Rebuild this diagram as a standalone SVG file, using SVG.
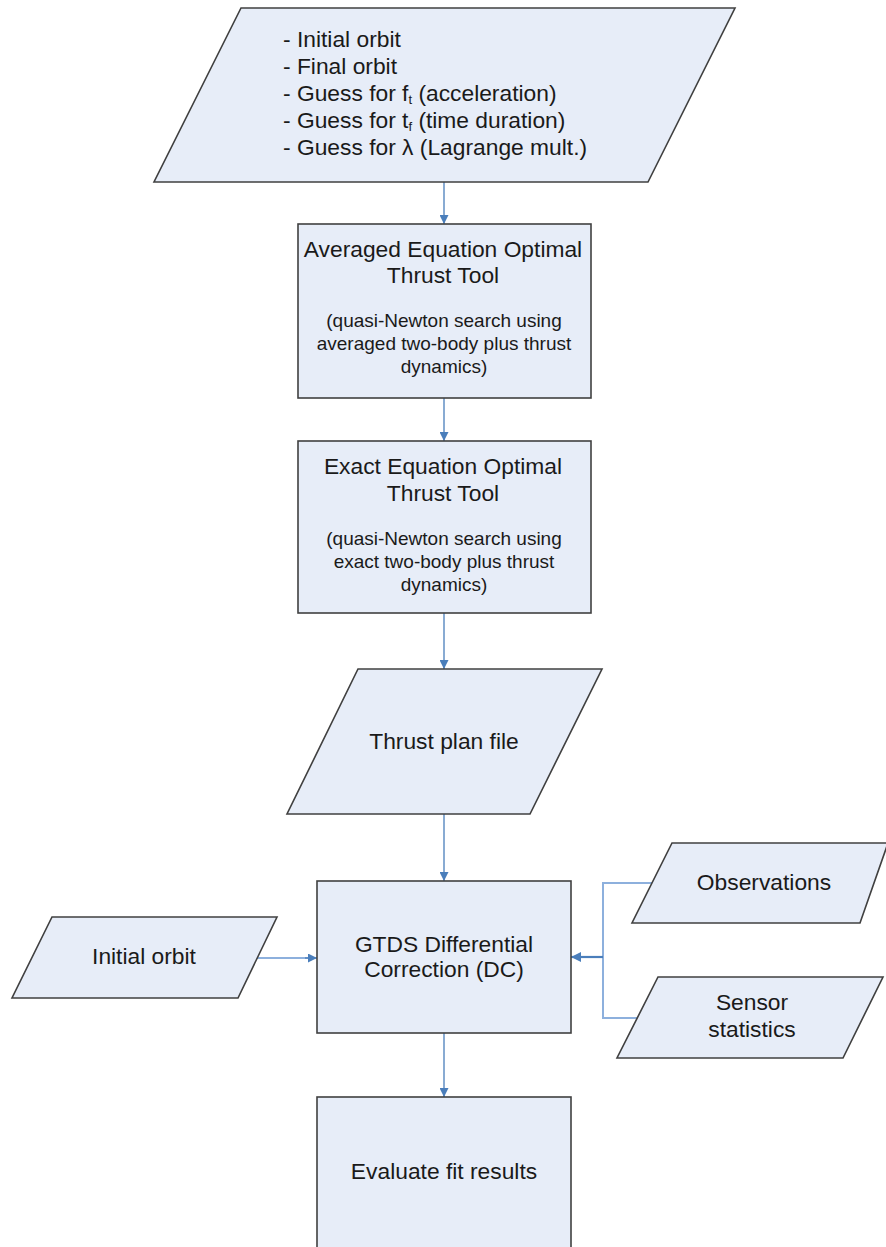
<svg xmlns="http://www.w3.org/2000/svg" width="886" height="1247" viewBox="0 0 886 1247">
  <style>
    .shape { fill: #E7EDF8; stroke: #404040; stroke-width: 1.6; }
    .label { font-family: "Liberation Sans", Arial, sans-serif; font-size: 22.8px; fill: #1a1a1a; text-anchor: middle; }
    .list { font-family: "Liberation Sans", Arial, sans-serif; font-size: 22.8px; fill: #1a1a1a; }
    .sub { font-family: "Liberation Sans", Arial, sans-serif; font-size: 19px; fill: #1a1a1a; text-anchor: middle; }
    .flow { fill: none; stroke: #4A7EBB; stroke-width: 1.3; }
    .feed { fill: none; stroke: #8DB0DD; stroke-width: 2; }
    .merge { fill: none; stroke: #4A7EBB; stroke-width: 2.2; }
  </style>
  <defs>
    <marker id="arrow" viewBox="0 0 10 10" refX="10" refY="5" markerWidth="9" markerHeight="9" markerUnits="userSpaceOnUse" orient="auto">
      <path d="M0,0 L10,5 L0,10 z" fill="#4A7EBB"/>
    </marker>
    <marker id="arrowWide" viewBox="0 0 10 10" refX="10" refY="5" markerWidth="10" markerHeight="10" markerUnits="userSpaceOnUse" orient="auto">
      <path d="M0,0 L10,5 L0,10 z" fill="#4A7EBB"/>
    </marker>
  </defs>

  <!-- connectors -->
  <g id="connectors">
    <line class="flow" x1="444" y1="182" x2="444" y2="224" marker-end="url(#arrow)"/>
    <line class="flow" x1="444" y1="398" x2="444" y2="441" marker-end="url(#arrow)"/>
    <line class="flow" x1="444" y1="613" x2="444" y2="669" marker-end="url(#arrow)"/>
    <line class="flow" x1="444" y1="814" x2="444" y2="881" marker-end="url(#arrow)"/>
    <line class="flow" x1="444" y1="1033" x2="444" y2="1097" marker-end="url(#arrow)"/>
    <line class="feed" x1="257" y1="958" x2="310" y2="958"/>
    <line class="flow" x1="305" y1="958" x2="317" y2="958" marker-end="url(#arrow)"/>
    <polyline class="feed" points="652,883 603,883 603,1018 637,1018"/>
    <line class="merge" x1="603" y1="957" x2="571" y2="957" marker-end="url(#arrowWide)"/>
  </g>

  <g id="inputs">
    <polygon class="shape" points="241,8 735,8 648,182 154,182"/>
    <text class="list" x="283" y="47">- Initial orbit</text>
    <text class="list" x="283" y="74">- Final orbit</text>
    <text class="list" x="283" y="101">- Guess for f<tspan font-size="13" dy="3">t</tspan><tspan dy="-3"> (acceleration)</tspan></text>
    <text class="list" x="283" y="128">- Guess for t<tspan font-size="13" dy="3">f</tspan><tspan dy="-3"> (time duration)</tspan></text>
    <text class="list" x="283" y="155">- Guess for λ (Lagrange mult.)</text>
  </g>

  <g id="averaged-tool">
    <rect class="shape" x="298" y="224" width="293" height="174"/>
    <text class="label" x="443" y="257">Averaged Equation Optimal</text>
    <text class="label" x="443" y="283">Thrust Tool</text>
    <text class="sub" x="444" y="327">(quasi-Newton search using</text>
    <text class="sub" x="444" y="350">averaged two-body plus thrust</text>
    <text class="sub" x="444" y="373">dynamics)</text>
  </g>

  <g id="exact-tool">
    <rect class="shape" x="298" y="441" width="293" height="172"/>
    <text class="label" x="443" y="474">Exact Equation Optimal</text>
    <text class="label" x="443" y="501">Thrust Tool</text>
    <text class="sub" x="444" y="545">(quasi-Newton search using</text>
    <text class="sub" x="444" y="568">exact two-body plus thrust</text>
    <text class="sub" x="444" y="591">dynamics)</text>
  </g>

  <g id="thrust-plan">
    <polygon class="shape" points="358,669 602,669 530,814 287,814"/>
    <text class="label" x="444" y="749">Thrust plan file</text>
  </g>

  <g id="gtds-dc">
    <rect class="shape" x="317" y="881" width="254" height="152"/>
    <text class="label" x="444" y="952">GTDS Differential</text>
    <text class="label" x="444" y="977">Correction (DC)</text>
  </g>

  <g id="initial-orbit">
    <polygon class="shape" points="52,917 277,917 238,998 12,998"/>
    <text class="label" x="144" y="964">Initial orbit</text>
  </g>

  <g id="observations">
    <polygon class="shape" points="672,843 888,843 860,923 632,923"/>
    <text class="label" x="764" y="890">Observations</text>
  </g>

  <g id="sensor-statistics">
    <polygon class="shape" points="658,977 883,977 843,1058 617,1058"/>
    <text class="label" x="752" y="1010">Sensor</text>
    <text class="label" x="752" y="1037">statistics</text>
  </g>

  <g id="evaluate">
    <rect class="shape" x="317" y="1097" width="254" height="160"/>
    <text class="label" x="444" y="1179">Evaluate fit results</text>
  </g>
</svg>
